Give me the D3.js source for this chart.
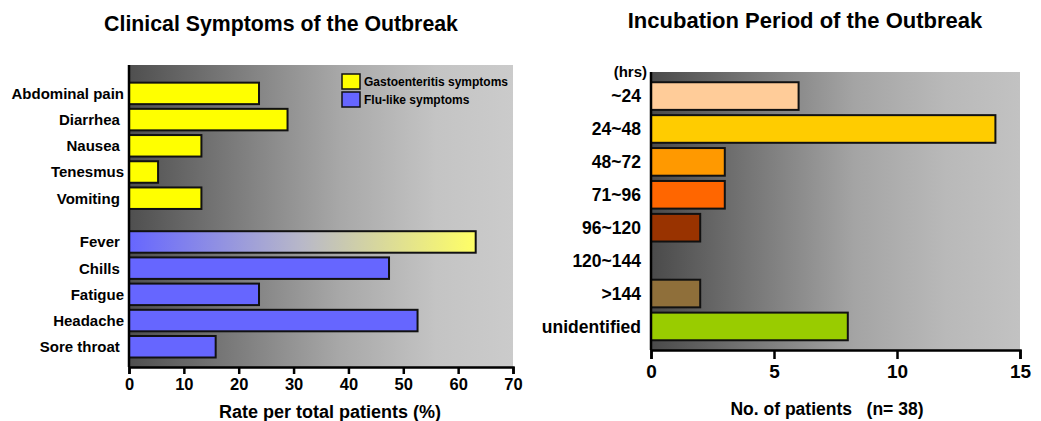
<!DOCTYPE html>
<html><head><meta charset="utf-8">
<script src="https://cdn.jsdelivr.net/npm/d3@7"></script>
<style>body{margin:0;background:#fff}svg{display:block;font-family:"Liberation Sans",Arial,sans-serif;font-weight:bold}</style>
</head><body><svg id="c" width="1041" height="421"></svg>
<script>
// ---- Left chart data ----
const gastroNames = ["Abdominal pain", "Diarrhea ", "Nausea ", "Tenesmus", "Vomiting "];
const gastroValues = [23.7, 28.9, 13.2, 5.3, 13.2];
const fluNames = ["Fever ", "Chills ", "Fatigue", "Headache", "Sore throat "];
const fluValues = [63.2, 47.4, 23.7, 52.6, 15.8];
const rateTicks = [0, 10, 20, 30, 40, 50, 60, 70];
const legendLabels = ["Gastoenteritis symptoms", "Flu-like symptoms"];
const groupColors = ["#ffff00", "#6666ff"];

// ---- Right chart data ----
const incubCats = ["~24", "24~48", "48~72", "71~96", "96~120", "120~144", ">144", "unidentified"];
const incubValues = [6, 14, 3, 3, 2, 0, 2, 8];
const incubColors = ["#ffcc99", "#ffcc00", "#ff9900", "#ff6600", "#993300", "#996633", "#8f6f3a", "#99cc00"];
const patientTicks = [0, 5, 10, 15];

const svg = d3.select("#c");
const defs = svg.append("defs");

function bgGrad(id, stops) {
  const g = defs.append("linearGradient").attr("id", id).attr("x1", 0).attr("x2", 1).attr("y1", 0).attr("y2", 0);
  stops.forEach(s => g.append("stop").attr("offset", s[0]).attr("stop-color", s[1]));
}
bgGrad("bgL", [[0, "#4f4f4f"], [0.55, "#a8a8a8"], [0.8, "#c4c4c4"], [1, "#cbcbcb"]]);
bgGrad("bgR", [[0, "#4a4a4a"], [0.55, "#a4a4a4"], [0.8, "#b9b9b9"], [1, "#c2c2c2"]]);
bgGrad("feverGrad", [[0, "#6666ff"], [0.5, "#b8b8c8"], [1, "#ffff66"]]);

// ================= LEFT CHART =================
const L = {left: 129, right: 513, top: 65, bottom: 367};
const xL = d3.scaleLinear().domain([0, 70]).range([L.left, L.right]);
const groupGap = 0.67;
const slotY = d3.scaleLinear().domain([0, 1]).range([93.4, 119.6]);
const barHL = 21.5;

const leftData = gastroNames.map((n, i) => ({name: n, value: gastroValues[i], slot: i, group: 0}))
  .concat(fluNames.map((n, i) => ({name: n, value: fluValues[i], slot: gastroNames.length + groupGap + i, group: 1})));

const gL = svg.append("g");
gL.append("rect").attr("x", L.left).attr("y", L.top).attr("width", L.right - L.left).attr("height", L.bottom - L.top).attr("fill", "url(#bgL)");

gL.selectAll("rect.bar").data(leftData).join("rect").attr("class", "bar")
  .attr("x", xL(0)).attr("y", d => slotY(d.slot) - barHL / 2)
  .attr("width", d => xL(d.value) - xL(0)).attr("height", barHL)
  .attr("fill", d => (d.name.trim() === "Fever" ? "url(#feverGrad)" : groupColors[d.group]))
  .attr("stroke", "#111").attr("stroke-width", 2);

gL.selectAll("text.ylab").data(leftData).join("text").attr("class", "ylab")
  .attr("x", 124).attr("y", d => slotY(d.slot)).attr("dy", "0.36em")
  .attr("text-anchor", "end").attr("font-size", 15).style("white-space", "pre")
  .text(d => d.name);

// axes
const axL = d3.axisBottom(xL).tickValues(rateTicks).tickSize(7).tickPadding(4).tickFormat(d3.format("d"));
const axLg = gL.append("g").attr("transform", `translate(0,${L.bottom})`).call(axL);
axLg.select(".domain").attr("stroke", "#000").attr("stroke-width", 2.5);
axLg.selectAll(".tick line").attr("stroke", "#000").attr("stroke-width", 2.5);
axLg.selectAll(".tick text").attr("font-size", 16.5).attr("font-weight", "bold").attr("font-family", "'Liberation Sans',Arial,sans-serif").attr("fill", "#000");
gL.append("line").attr("x1", L.left).attr("x2", L.left).attr("y1", L.top).attr("y2", L.bottom).attr("stroke", "#000").attr("stroke-width", 2.5);

gL.append("text").attr("x", 330).attr("y", 418).attr("text-anchor", "middle").attr("font-size", 18).text("Rate per total patients (%)");
gL.append("text").attr("x", 281).attr("y", 31).attr("text-anchor", "middle").attr("font-size", 21.3).text("Clinical Symptoms of the Outbreak");

// legend
const lg = gL.append("g");
legendLabels.forEach((t, i) => {
  lg.append("rect").attr("x", 342).attr("y", 74 + i * 18).attr("width", 18).attr("height", 15)
    .attr("fill", groupColors[i]).attr("stroke", "#111").attr("stroke-width", 1.5);
  lg.append("text").attr("x", 364).attr("y", 86 + i * 17.5).attr("font-size", 12).text(t);
});

// ================= RIGHT CHART =================
const R = {left: 651, right: 1020, top: 72, bottom: 350};
const xR = d3.scaleLinear().domain([0, 15]).range([R.left, R.right]);
const yR = d3.scaleBand().domain(incubCats).range([79.6, 342.9]).paddingInner(0.16).paddingOuter(0.08);

const gR = svg.append("g");
gR.append("rect").attr("x", R.left).attr("y", R.top).attr("width", R.right - R.left).attr("height", R.bottom - R.top).attr("fill", "url(#bgR)");

const rightData = incubCats.map((c, i) => ({cat: c, value: incubValues[i], color: incubColors[i]}));
gR.selectAll("rect.bar").data(rightData.filter(d => d.value > 0)).join("rect").attr("class", "bar")
  .attr("x", xR(0)).attr("y", d => yR(d.cat)).attr("width", d => xR(d.value) - xR(0)).attr("height", yR.bandwidth())
  .attr("fill", d => d.color).attr("stroke", "#111").attr("stroke-width", 2);

gR.selectAll("text.ylab").data(rightData).join("text").attr("class", "ylab")
  .attr("x", 641).attr("y", d => yR(d.cat) + yR.bandwidth() / 2).attr("dy", "0.36em")
  .attr("text-anchor", "end").attr("font-size", 17.5).text(d => d.cat);

gR.append("text").attr("x", 647).attr("y", 77).attr("text-anchor", "end").attr("font-size", 15).text("(hrs)");

const axR = d3.axisBottom(xR).tickValues(patientTicks).tickSize(9).tickPadding(6).tickFormat(d3.format("d"));
const axRg = gR.append("g").attr("transform", `translate(0,${R.bottom})`).call(axR);
axRg.select(".domain").attr("stroke", "#000").attr("stroke-width", 2.5);
axRg.selectAll(".tick line").attr("stroke", "#000").attr("stroke-width", 2.5);
axRg.selectAll(".tick text").attr("font-size", 19).attr("font-weight", "bold").attr("font-family", "'Liberation Sans',Arial,sans-serif").attr("fill", "#000");
gR.append("line").attr("x1", R.left).attr("x2", R.left).attr("y1", R.top).attr("y2", R.bottom).attr("stroke", "#000").attr("stroke-width", 2.5);

gR.append("text").attr("x", 827).attr("y", 415).attr("text-anchor", "middle").attr("font-size", 17.5).style("white-space", "pre").text("No. of patients   (n= 38)");
gR.append("text").attr("x", 805).attr("y", 28).attr("text-anchor", "middle").attr("font-size", 22).text("Incubation Period of the Outbreak");
</script></body></html>
